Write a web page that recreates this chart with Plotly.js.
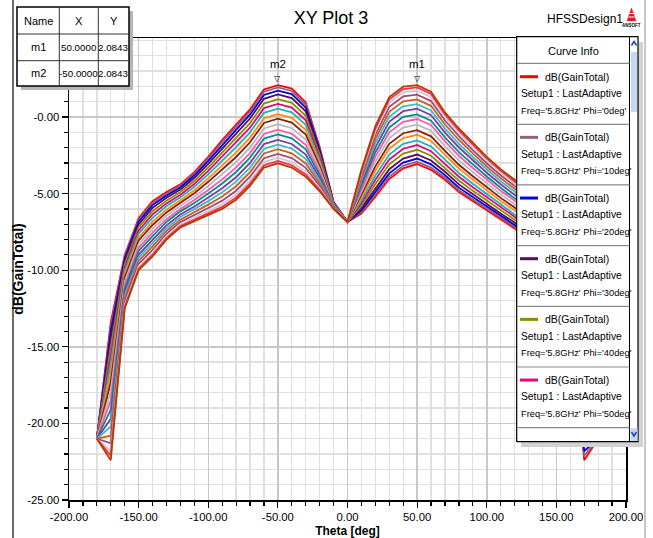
<!DOCTYPE html>
<html><head><meta charset="utf-8">
<script src="https://cdn.plot.ly/plotly-3.0.1.min.js"></script>
<style>html,body{margin:0;padding:0;background:#fff;overflow:hidden}#chart{width:653px;height:538px}</style>
</head><body><div id="chart"></div>
<script>
// ---------- data ----------
const theta = [-180,-170,-160,-150,-140,-130,-120,-110,-100,-90,-80,-70,-60,-50,-40,-30,-20,-10,0,10,20,30,40,50,60,70,80,90,100,110,120,130,140,150,160,170,180];
const phi0   = [-21,-13.4,-9.0,-6.6,-5.5,-4.9,-4.4,-3.6,-2.6,-1.5,-0.5,0.5,1.8,2.0843,1.85,0.95,-1.95,-5.55,-6.85,-6.3,-5.2,-4.05,-3.35,-3.07,-3.45,-4.1,-4.9,-5.5,-6.07,-6.7,-7.27,-8.0,-9.1,-10.0,-12.5,-22.4,-21];
const phi10  = [-21,-13.7,-9.1,-6.7,-5.61,-4.99,-4.48,-3.7,-2.71,-1.64,-0.65,0.35,1.65,1.93,1.7,0.8,-2.04,-5.56,-6.85,-6.21,-5.06,-3.89,-3.19,-2.92,-3.3,-3.97,-4.78,-5.39,-5.97,-6.6,-7.17,-7.9,-8.99,-9.9,-12.4,-22.1,-21];
const phi20  = [-21,-14.0,-9.25,-6.84,-5.75,-5.12,-4.6,-3.82,-2.87,-1.82,-0.84,0.15,1.44,1.72,1.49,0.61,-2.15,-5.58,-6.85,-6.1,-4.88,-3.68,-2.98,-2.71,-3.09,-3.79,-4.61,-5.23,-5.83,-6.47,-7.05,-7.78,-8.85,-9.76,-12.26,-21.8,-21];
const phi30  = [-21,-14.5,-9.42,-7.01,-5.93,-5.27,-4.74,-3.98,-3.06,-2.04,-1.09,-0.1,1.19,1.47,1.23,0.37,-2.3,-5.6,-6.85,-5.96,-4.65,-3.41,-2.71,-2.45,-2.84,-3.57,-4.4,-5.04,-5.65,-6.3,-6.89,-7.62,-8.67,-9.59,-12.08,-21.3,-21];
const phi40  = [-21,-15.0,-9.63,-7.21,-6.15,-5.46,-4.9,-4.18,-3.28,-2.31,-1.38,-0.4,0.88,1.16,0.92,0.08,-2.47,-5.63,-6.85,-5.79,-4.37,-3.09,-2.39,-2.14,-2.53,-3.31,-4.15,-4.82,-5.45,-6.11,-6.7,-7.42,-8.45,-9.39,-11.87,-20.8,-21];
const phi50  = [-21,-15.6,-9.84,-7.42,-6.36,-5.64,-5.07,-4.37,-3.51,-2.58,-1.68,-0.7,0.58,0.86,0.61,-0.21,-2.65,-5.66,-6.85,-5.62,-4.1,-2.77,-2.07,-1.83,-2.23,-3.04,-3.9,-4.59,-5.24,-5.91,-6.51,-7.23,-8.24,-9.18,-11.66,-20.2,-21];
const phi60  = [-21,-16.1,-10.05,-7.62,-6.58,-5.83,-5.24,-4.56,-3.74,-2.85,-1.97,-1.0,0.27,0.55,0.31,-0.51,-2.82,-5.69,-6.85,-5.45,-3.82,-2.45,-1.75,-1.53,-1.92,-2.78,-3.66,-4.36,-5.03,-5.71,-6.32,-7.04,-8.02,-8.98,-11.45,-19.7,-21];
const phi70  = [-21,-16.7,-10.3,-7.86,-6.83,-6.05,-5.44,-4.78,-4.01,-3.17,-2.31,-1.35,-0.09,0.19,-0.06,-0.84,-3.02,-5.72,-6.85,-5.25,-3.5,-2.07,-1.38,-1.16,-1.56,-2.47,-3.36,-4.09,-4.79,-5.48,-6.1,-6.82,-7.77,-8.74,-11.2,-19.1,-21];
const phi80  = [-21,-17.3,-10.51,-8.06,-7.05,-6.23,-5.6,-4.98,-4.23,-3.44,-2.61,-1.65,-0.39,-0.11,-0.36,-1.14,-3.2,-5.74,-6.85,-5.07,-3.22,-1.75,-1.06,-0.86,-1.26,-2.21,-3.12,-3.87,-4.58,-5.28,-5.91,-6.62,-7.55,-8.54,-11.0,-18.5,-21];
const phi90  = [-21,-17.9,-10.75,-8.3,-7.3,-6.45,-5.8,-5.2,-4.5,-3.75,-2.95,-2.0,-0.75,-0.47,-0.73,-1.48,-3.4,-5.78,-6.85,-4.88,-2.9,-1.38,-0.69,-0.5,-0.9,-1.9,-2.83,-3.6,-4.34,-5.05,-5.69,-6.4,-7.3,-8.3,-10.75,-17.9,-21];
const phi100 = [-21,-18.5,-11.0,-8.54,-7.55,-6.67,-6.0,-5.42,-4.77,-4.07,-3.29,-2.35,-1.11,-0.83,-1.09,-1.81,-3.6,-5.81,-6.85,-4.68,-2.58,-1.0,-0.31,-0.13,-0.54,-1.59,-2.53,-3.33,-4.09,-4.82,-5.46,-6.18,-7.05,-8.06,-10.51,-17.3,-21];
const phi110 = [-21,-19.1,-11.2,-8.74,-7.77,-6.85,-6.16,-5.62,-4.99,-4.34,-3.59,-2.65,-1.41,-1.13,-1.39,-2.11,-3.78,-5.83,-6.85,-4.5,-2.3,-0.68,0.01,0.17,-0.24,-1.33,-2.29,-3.11,-3.88,-4.62,-5.27,-5.98,-6.83,-7.86,-10.3,-16.7,-21];
const phi120 = [-21,-19.7,-11.45,-8.98,-8.02,-7.07,-6.36,-5.84,-5.26,-4.65,-3.93,-3.0,-1.77,-1.49,-1.76,-2.45,-3.98,-5.87,-6.85,-4.31,-1.98,-0.31,0.38,0.54,0.12,-1.02,-1.99,-2.84,-3.64,-4.39,-5.05,-5.76,-6.58,-7.62,-10.05,-16.1,-21];
const phi130 = [-21,-20.2,-11.66,-9.18,-8.24,-7.26,-6.53,-6.03,-5.49,-4.92,-4.22,-3.3,-2.08,-1.8,-2.06,-2.74,-4.15,-5.89,-6.85,-4.13,-1.7,0.02,0.7,0.84,0.43,-0.76,-1.75,-2.61,-3.43,-4.19,-4.86,-5.57,-6.36,-7.42,-9.84,-15.6,-21];
const phi140 = [-21,-20.8,-11.87,-9.39,-8.45,-7.44,-6.7,-6.22,-5.72,-5.19,-4.52,-3.6,-2.38,-2.1,-2.37,-3.03,-4.33,-5.92,-6.85,-3.96,-1.43,0.34,1.02,1.15,0.73,-0.49,-1.5,-2.38,-3.22,-3.99,-4.67,-5.38,-6.15,-7.21,-9.63,-15.0,-21];
const phi150 = [-21,-21.3,-12.08,-9.59,-8.67,-7.63,-6.86,-6.42,-5.94,-5.46,-4.81,-3.9,-2.69,-2.41,-2.68,-3.32,-4.5,-5.95,-6.85,-3.79,-1.15,0.66,1.34,1.46,1.04,-0.23,-1.25,-2.16,-3.02,-3.8,-4.48,-5.18,-5.93,-7.01,-9.42,-14.5,-21];
const phi160 = [-21,-21.8,-12.26,-9.76,-8.85,-7.78,-7.0,-6.58,-6.13,-5.69,-5.06,-4.15,-2.94,-2.66,-2.94,-3.56,-4.65,-5.97,-6.85,-3.65,-0.92,0.93,1.61,1.72,1.29,-0.01,-1.04,-1.97,-2.84,-3.63,-4.32,-5.02,-5.75,-6.84,-9.25,-14.0,-21];
const phi170 = [-21,-22.1,-12.4,-9.9,-8.99,-7.91,-7.12,-6.7,-6.29,-5.87,-5.25,-4.35,-3.15,-2.87,-3.15,-3.75,-4.76,-5.99,-6.85,-3.54,-0.74,1.14,1.82,1.93,1.5,0.17,-0.87,-1.81,-2.7,-3.5,-4.2,-4.9,-5.61,-6.7,-9.1,-13.7,-21];
const phi180 = [-21,-22.4,-12.5,-10.0,-9.1,-8.0,-7.2,-6.8,-6.4,-6.0,-5.4,-4.5,-3.3,-3.02,-3.3,-3.9,-4.85,-6.0,-6.85,-3.45,-0.6,1.3,1.98,2.0843,1.65,0.3,-0.75,-1.7,-2.6,-3.4,-4.1,-4.8,-5.5,-6.6,-9.0,-13.4,-21];

const phiLabels = ['0deg','10deg','20deg','30deg','40deg','50deg','60deg','70deg','80deg','90deg','100deg','110deg','120deg','130deg','140deg','150deg','160deg','170deg','180deg'];
const curveValues = [phi0,phi10,phi20,phi30,phi40,phi50,phi60,phi70,phi80,phi90,phi100,phi110,phi120,phi130,phi140,phi150,phi160,phi170,phi180];
const curveColors = ['#ff0000','#94607f','#0000e6','#5c0a5c','#8c8c00','#dc0a80','#1fb4b4','#ff8a10','#8b1e14','#b8b8b8','#ff55b0','#0a8c8c','#7a3fa0','#40b8d0','#c8601e','#a04a80','#cccccc','#ff2a55','#b04000'];

const xTickVals = [-200,-150,-100,-50,0,50,100,150,200];
const xTickText = ['-200.00','-150.00','-100.00','-50.00','0.00','50.00','100.00','150.00','200.00'];
const yTickVals = [-25,-20,-15,-10,-5,0];
const yTickText = ['-25.00','-20.00','-15.00','-10.00','-5.00','-0.00'];

const markerNames = ['m1','m2'];
const markerX = [50,-50];
const markerY = [2.0843,2.0843];

// ---------- layout helpers ----------
const FONT = "'Liberation Sans',Arial,sans-serif";
const L = 69, R = 626, T = 38, B = 500;
const px = x => (x - L) / (R - L);
const py = y => (B - y) / (B - T);

const traces = curveValues.map((v, i) => ({
  type: 'scatter', mode: 'lines', x: theta, y: v,
  name: "dB(GainTotal) Setup1 : LastAdaptive Freq='5.8GHz' Phi='" + phiLabels[i] + "'",
  line: {color: curveColors[i], width: 1.8},
  showlegend: false, hoverinfo: 'skip'
}));

const shapes = [];
const ann = [];
const P = (o) => Object.assign({xref: 'paper', yref: 'paper', layer: 'above'}, o);
function rect(x0, y0, x1, y1, fill, lc, lw) {
  shapes.push(P({type: 'rect', x0: px(x0), x1: px(x1), y0: py(y0), y1: py(y1), fillcolor: fill, line: {color: lc || fill, width: lw === undefined ? 0 : lw}}));
}
function hline(x0, x1, y, c, w) { shapes.push(P({type: 'line', x0: px(x0), x1: px(x1), y0: py(y), y1: py(y), line: {color: c, width: w}})); }
function vline(x, y0, y1, c, w) { shapes.push(P({type: 'line', x0: px(x), x1: px(x), y0: py(y0), y1: py(y1), line: {color: c, width: w}})); }
function text(t, x, y, size, anchor, extra) {
  ann.push(Object.assign({xref: 'paper', yref: 'paper', x: px(x), y: py(y), text: t, showarrow: false,
    xanchor: anchor || 'center', yanchor: 'middle', borderpad: 0, font: {family: FONT, size: size, color: '#000'}}, extra || {}));
}

// page frame lines
vline(13, 0, 538, '#3a3a3a', 1.5);
vline(645, 0, 538, '#b4b4b4', 1.5);

// marker table
rect(21, 11, 133, 90, '#b4b4b4');
rect(17, 7, 129, 86, '#ffffff', '#000000', 1.5);
vline(59.3, 7, 86, '#303030', 1);
vline(98.3, 7, 86, '#303030', 1);
hline(17, 129, 34, '#303030', 1);
hline(17, 129, 60.7, '#303030', 1);
const colC = [38.2, 78.8, 113.7];
const rowC = [20.5, 47.3, 73.3];
['Name', 'X', 'Y'].forEach((h, i) => text(h, colC[i], rowC[0], 11));
markerNames.forEach((m, r) => {
  text(m, colC[0], rowC[r + 1], 11);
  text(markerX[r].toFixed(4), colC[1], rowC[r + 1], 9.8);
  text(markerY[r].toFixed(4), colC[2], rowC[r + 1], 9.8);
});

// curve info legend
rect(521, 42, 643, 447, '#d2d2d2');
rect(516.7, 36.7, 638, 441.7, '#ffffff', '#000000', 1.2);
vline(629.5, 36.7, 441.7, '#000000', 1);
rect(631, 52, 637, 112, '#c4d8f2');
rect(630.5, 428, 637.5, 441, '#c4d8f2');
shapes.push(P({type: 'path', path: `M${px(631.5)},${py(45.5)} L${px(634)},${py(41.5)} L${px(636.5)},${py(45.5)}`, line: {color: '#1a3fd0', width: 1.5}}));
shapes.push(P({type: 'path', path: `M${px(631.5)},${py(432)} L${px(634)},${py(436)} L${px(636.5)},${py(432)}`, line: {color: '#1a3fd0', width: 1.5}}));
text('Curve Info', 573, 50.7, 11);
hline(517, 629.5, 63.3, '#8a8a8a', 1.2);
for (let i = 0; i < 6; i++) {
  const y0 = 76.7 + 60.67 * i;
  hline(520, 538, y0, curveColors[i], 3);
  text('dB(GainTotal)', 544, y0, 10.5, 'left');
  text('Setup1 : LastAdaptive', 519.5, y0 + 16.7, 10.3, 'left');
  text("Freq='5.8GHz' Phi='" + phiLabels[i] + "'", 519.5, y0 + 34, 9.3, 'left');
  hline(517, 629.5, y0 + 47.6, '#8a8a8a', 1.2);
}

// header texts
text('HFSSDesign1', 585, 19, 12);
shapes.push(P({type: 'path', path: `M${px(627)},${py(21)} L${px(631.5)},${py(8)} L${px(636)},${py(21)} Z`, fillcolor: '#d42020', line: {color: '#d42020', width: 0.5}}));
hline(628.5, 634.5, 17, '#ffffff', 1);
hline(629.5, 633.5, 13.5, '#ffffff', 1);
text('<b>ANSOFT</b>', 631.5, 25.5, 4.5);

// marker labels on curves
markerNames.forEach((m, r) => {
  ann.push({xref: 'x', yref: 'y', x: markerX[r], y: markerY[r], text: '▽', showarrow: false, yshift: 7,
    font: {family: 'DejaVu Sans', size: 8, color: '#000'}});
  ann.push({xref: 'x', yref: 'y', x: markerX[r], y: markerY[r], text: m, showarrow: false, yshift: 21,
    font: {family: FONT, size: 11.5, color: '#000'}});
});

const layout = {
  width: 653, height: 538,
  margin: {l: L, r: 653 - R, t: T, b: 538 - B, pad: 0},
  paper_bgcolor: '#ffffff', plot_bgcolor: '#ffffff',
  showlegend: false,
  title: {text: 'XY Plot 3', x: 331 / 653, xanchor: 'center', y: 1 - 18 / 538, yanchor: 'middle',
    font: {family: FONT, size: 18, color: '#000'}},
  xaxis: {
    range: [-200, 200], tickmode: 'array', tickvals: xTickVals, ticktext: xTickText,
    ticks: 'outside', ticklen: 6, tickwidth: 1.2, tickcolor: '#000',
    showline: true, linecolor: '#000', linewidth: 1.5, mirror: true, zeroline: false,
    showgrid: true, gridcolor: '#c8c8c8', gridwidth: 1.5,
    minor: {tickmode: 'linear', tick0: 0, dtick: 10, ticks: 'outside', ticklen: 4, tickcolor: '#000', showgrid: true, gridcolor: '#e0e0e0', gridwidth: 1.3},
    tickfont: {family: FONT, size: 11.3, color: '#000'},
    title: {text: '<b>Theta [deg]</b>', font: {family: FONT, size: 12, color: '#000'}, standoff: 15}
  },
  yaxis: {
    range: [-25, 5.157], tickmode: 'array', tickvals: yTickVals, ticktext: yTickText,
    ticks: 'outside', ticklen: 6, tickwidth: 1.2, tickcolor: '#000',
    showline: true, linecolor: '#000', linewidth: 1.5, mirror: true, zeroline: false,
    showgrid: true, gridcolor: '#c8c8c8', gridwidth: 1.5,
    minor: {tickmode: 'linear', tick0: 0, dtick: 1, ticks: 'outside', ticklen: 4, tickcolor: '#000', showgrid: true, gridcolor: '#e0e0e0', gridwidth: 1.3},
    tickfont: {family: FONT, size: 11.3, color: '#000'},
    title: {text: '<b>dB(GainTotal)</b>', font: {family: FONT, size: 14, color: '#000'}, standoff: 0}
  },
  shapes: shapes,
  annotations: ann
};

Plotly.newPlot('chart', traces, layout, {staticPlot: true, displayModeBar: false});
</script>
</body></html>
